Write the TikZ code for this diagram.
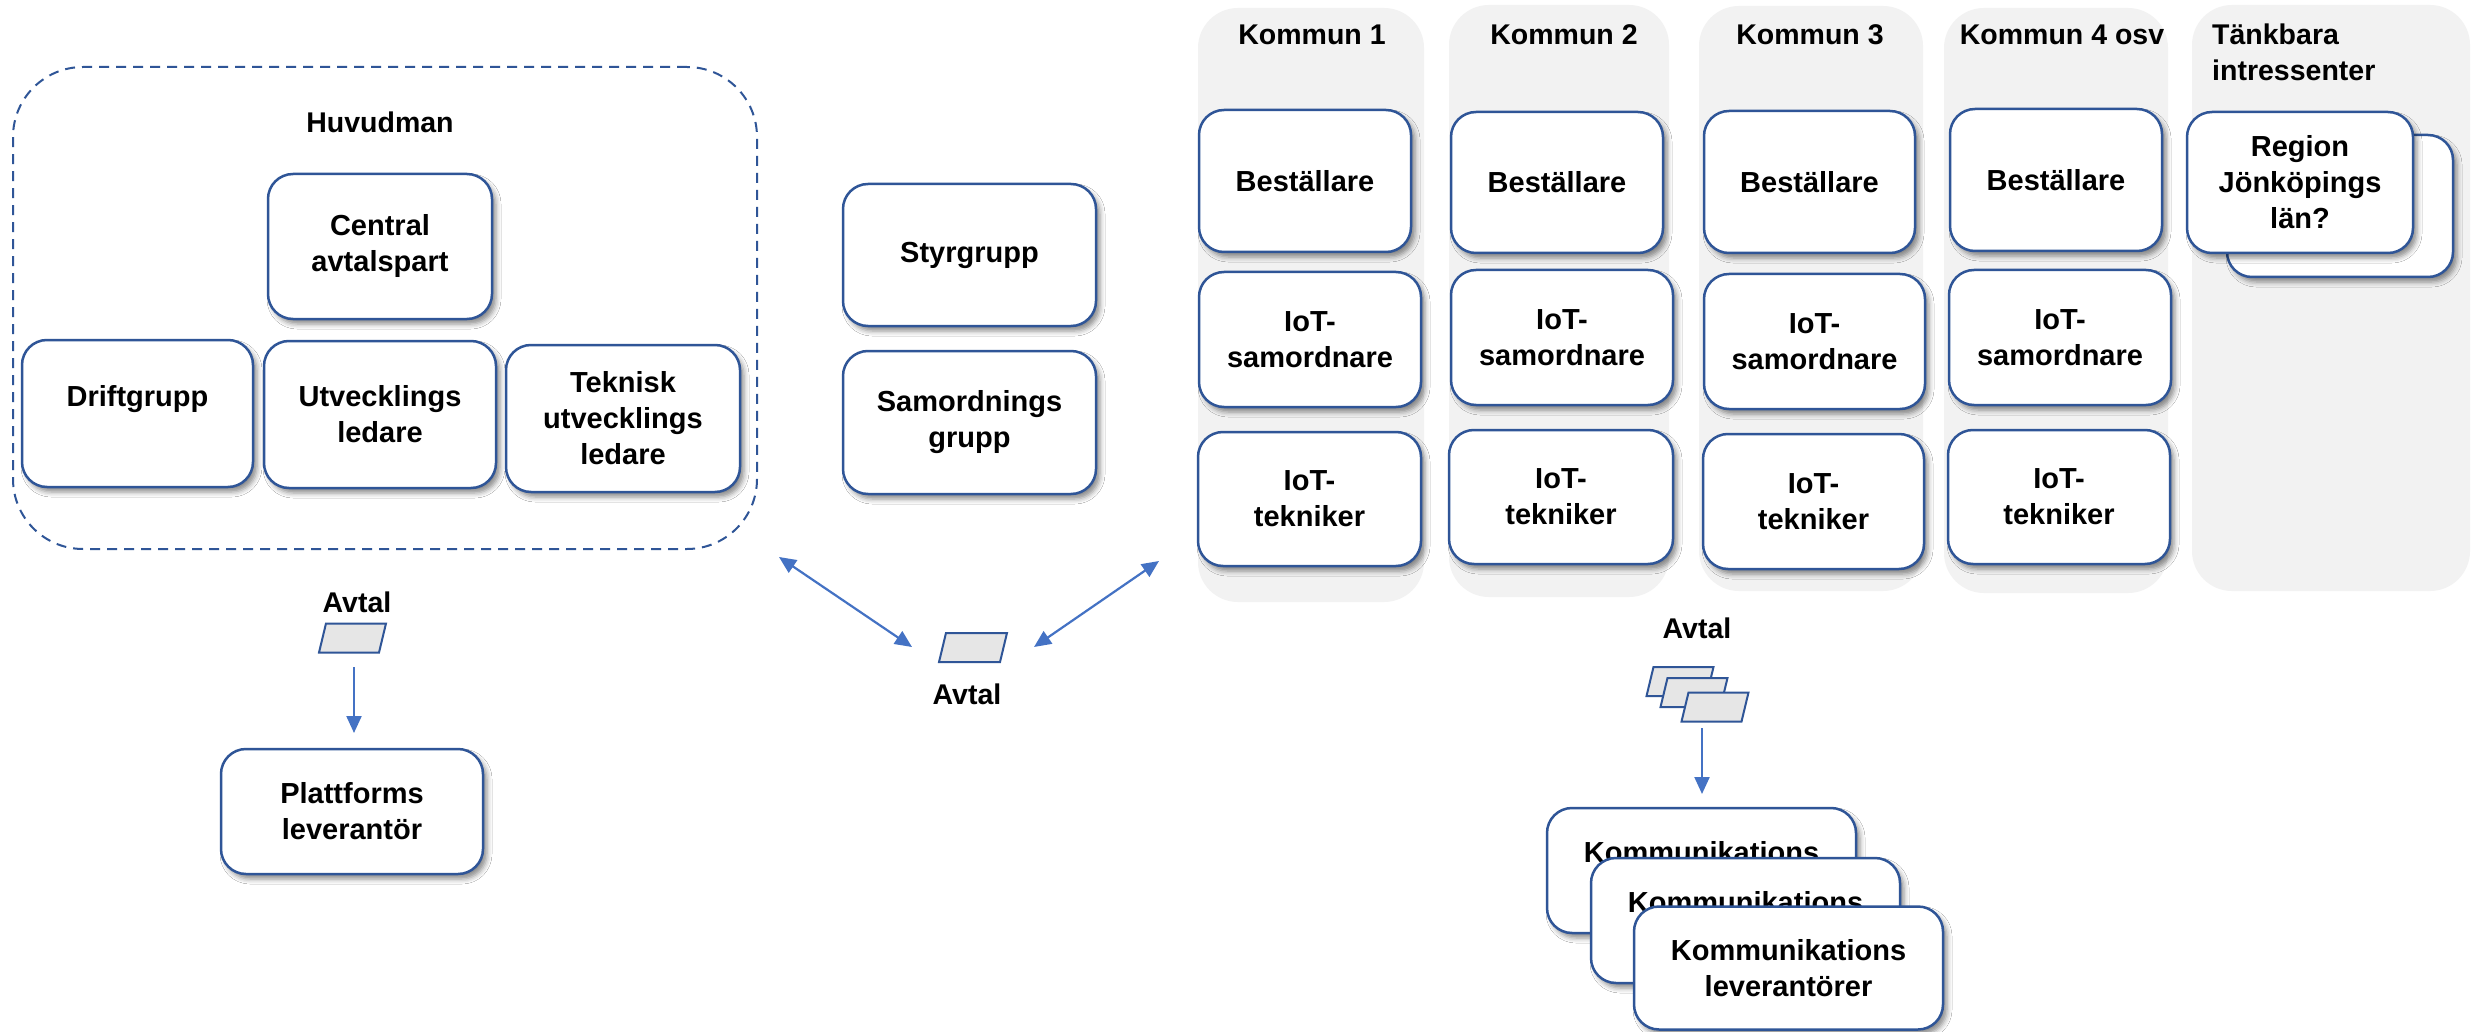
\documentclass[tikz,border=0pt]{standalone}
\usepackage{fontspec}
\setmainfont{Liberation Sans}
\usetikzlibrary{arrows.meta,shadows.blur}
\definecolor{bord}{HTML}{2F5597}
\definecolor{arr}{HTML}{4472C4}
\definecolor{colbg}{HTML}{F2F2F2}
\definecolor{avfill}{HTML}{E6E6E6}
\tikzset{
 box/.style={draw=bord, line width=2.5pt, fill=white, rounded corners=25pt, align=center, inner sep=0pt,
   font=\bfseries\fontsize{29}{36}\selectfont,
   blur shadow={shadow xshift=4pt, shadow yshift=-5pt, shadow blur radius=5pt, shadow opacity=45}},
 colbox/.style={fill=colbg, rounded corners=40pt, inner sep=0pt, draw=none},
 title/.style={font=\bfseries\fontsize{28.5}{36}\selectfont, inner sep=0pt, align=center},
 avtalshape/.style={draw=bord, fill=avfill, line width=2pt, minimum width=60pt, minimum height=29pt, inner sep=0pt, xslant=0.24},
 conn/.style={draw=arr, line width=2.2pt},
 onetip/.style={conn, -{Triangle[length=17pt,width=15pt]}},
 twotip/.style={conn, {Triangle[length=17pt,width=15pt]}-{Triangle[length=17pt,width=15pt]}},
 group/.style={draw=bord, line width=2pt, dash pattern=on 10pt off 7pt, rounded corners=70pt, inner sep=0pt}
}
\begin{document}
\begin{tikzpicture}[x=1pt,y=-1pt]
\fill[white] (0,0) rectangle (2473,1032);
\useasboundingbox (0,0) rectangle (2473,1032);

% Huvudman group
\node[group, minimum width=744pt, minimum height=482pt] (huv) at (385,308) {};
\node[title] (huvt) at (380,122) {Huvudman};
\node[box, minimum width=224pt, minimum height=145pt] (central) at (380,246.5) {Central\\avtalspart};
\node[box, minimum width=231pt, minimum height=147pt] (drift) at (137.5,413.5) {Driftgrupp\\\mbox{}};
\node[box, minimum width=232pt, minimum height=147pt] (utv) at (380,414.5) {Utvecklings\\ledare};
\node[box, minimum width=234pt, minimum height=147pt] (tek) at (623,418.5) {Teknisk\\utvecklings\\ledare};

% Avtal left
\node[title] (avtalLt) at (357,602) {Avtal};
\node[avtalshape] (avtalL) at (352.5,638) {};
\node[box, minimum width=262pt, minimum height=125pt] (platt) at (352,811.5) {Plattforms\\leverantör};
\coordinate (pa1) at (354,667);
\coordinate (pa2) at (354,733);
\draw[onetip] (pa1) -- (pa2);

% Styrgrupp / Samordning
\node[box, minimum width=253pt, minimum height=142pt] (styr) at (969.5,255) {Styrgrupp};
\node[box, minimum width=253pt, minimum height=143pt] (samo) at (969.5,422.5) {Samordnings\\grupp};

% Center avtal
\node[avtalshape, minimum width=61pt] (avtalC) at (973,647.5) {};
\node[title] (avtalCt) at (967,694) {Avtal};
\coordinate (la1) at (779,557);
\coordinate (la2) at (912,647);
\coordinate (ra1) at (1034,647);
\coordinate (ra2) at (1159,561);
\draw[twotip] (la1) -- (la2);
\draw[twotip] (ra1) -- (ra2);

% Columns
\node[colbox, minimum width=226pt, minimum height=594pt] (col1) at (1311,305) {};
\node[colbox, minimum width=220pt, minimum height=592pt] (col2) at (1559,301) {};
\node[colbox, minimum width=224pt, minimum height=585pt] (col3) at (1811,298.5) {};
\node[colbox, minimum width=224pt, minimum height=585pt] (col4) at (2056,300.5) {};
\node[colbox, minimum width=278pt, minimum height=586pt] (col5) at (2331,298) {};

\node[title] (k1t) at (1312,35) {Kommun 1};
\node[title] (k2t) at (1564,35) {Kommun 2};
\node[title] (k3t) at (1810,35) {Kommun 3};
\node[title] (k4t) at (2062,35) {Kommun 4 osv};
\node[title, align=left, anchor=west] (k5t) at (2212,52.5) {Tänkbara\\intressenter};

\node[box, minimum width=212pt, minimum height=142pt] (b1) at (1305,181) {Beställare};
\node[box, minimum width=222pt, minimum height=135pt] (s1) at (1310,339.5) {IoT-\\samordnare};
\node[box, minimum width=223pt, minimum height=134pt] (t1) at (1309.5,499) {IoT-\\tekniker};

\node[box, minimum width=212pt, minimum height=141pt] (b2) at (1557,182.5) {Beställare};
\node[box, minimum width=222pt, minimum height=135pt] (s2) at (1562,337.5) {IoT-\\samordnare};
\node[box, minimum width=224pt, minimum height=134pt] (t2) at (1561,497) {IoT-\\tekniker};

\node[box, minimum width=211pt, minimum height=142pt] (b3) at (1809.5,182) {Beställare};
\node[box, minimum width=221pt, minimum height=135pt] (s3) at (1814.5,341.5) {IoT-\\samordnare};
\node[box, minimum width=221pt, minimum height=135pt] (t3) at (1813.5,501.5) {IoT-\\tekniker};

\node[box, minimum width=212pt, minimum height=142pt] (b4) at (2056,180) {Beställare};
\node[box, minimum width=222pt, minimum height=135pt] (s4) at (2060,337.5) {IoT-\\samordnare};
\node[box, minimum width=222pt, minimum height=134pt] (t4) at (2059,497) {IoT-\\tekniker};

\node[box, minimum width=226pt, minimum height=142pt] (regb) at (2340,206) {};
\node[box, minimum width=226pt, minimum height=141pt] (regf) at (2300,182.5) {Region\\Jönköpings\\län?};

% Right avtal stack
\node[title] (avtalRt) at (1697,628) {Avtal};
\node[avtalshape] (avR1) at (1680,681.5) {};
\node[avtalshape] (avR2) at (1694,692.5) {};
\node[avtalshape] (avR3) at (1715,707) {};
\coordinate (rb1) at (1702,728);
\coordinate (rb2) at (1702,794);
\draw[onetip] (rb1) -- (rb2);

\node[box, minimum width=309pt, minimum height=125pt] (kl1) at (1701.5,870.5) {Kommunikations\\leverantörer};
\node[box, minimum width=309pt, minimum height=125pt] (kl2) at (1745.5,920.5) {Kommunikations\\leverantörer};
\node[box, minimum width=309pt, minimum height=123pt] (kl3) at (1788.5,968) {Kommunikations\\leverantörer};
\end{tikzpicture}
\end{document}
